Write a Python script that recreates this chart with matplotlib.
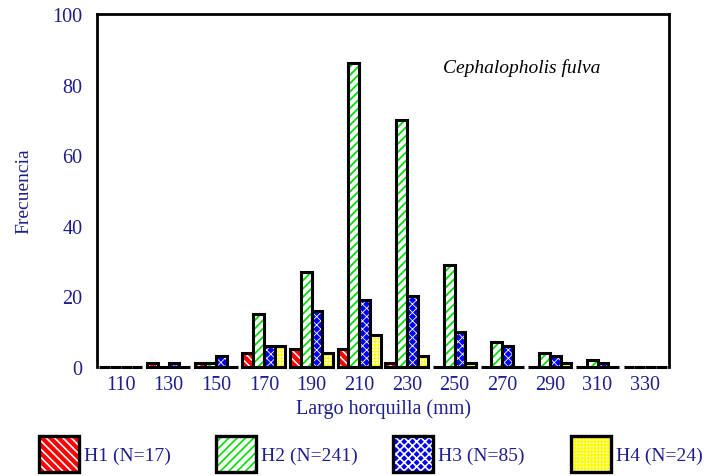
import numpy as np
import matplotlib.pyplot as plt
from matplotlib.patches import Patch
from matplotlib.legend_handler import HandlerTuple

plt.rcParams['font.family'] = 'Liberation Serif'
plt.rcParams['hatch.linewidth'] = 1.2

# class midpoints (mm) and counts per group
clases = ['110', '130', '150', '170', '190', '210', '230', '250', '270', '290', '310', '330']
h1 = [0, 1, 1, 4, 5, 5, 1, 0, 0, 0, 0, 0]
h2 = [0, 0, 1, 15, 27, 86, 70, 29, 7, 4, 2, 0]
h3 = [0, 1, 3, 6, 16, 19, 20, 10, 6, 3, 1, 0]
h4 = [0, 0, 0, 6, 4, 9, 3, 1, 0, 1, 0, 0]
etiquetas = ['H1 (N=17)', 'H2 (N=241)', 'H3 (N=85)', 'H4 (N=24)']

navy = '#1e1e8c'
# (face colour, hatch colour, hatch, hatch linewidth)
estilos = [('#ff0000', 'white', '\\\\\\\\', 1.1),
           ('white', '#00e000', '////', 1.3),
           ('#0000f0', 'white', 'xxxx', 0.6),
           ('white', '#ffff00', '+++++', 0.8)]


def relleno(fc, hc, hatch, hlw, **kw):
    p = Patch(facecolor=fc, edgecolor=hc, hatch=hatch, linewidth=0, **kw)
    if hasattr(p, 'set_hatch_linewidth'):
        p.set_hatch_linewidth(hlw)
    return p


fig = plt.figure(figsize=(7.05, 4.77), dpi=100)
ax = fig.add_axes([0.1376, 0.2285, 0.8114, 0.7401])

x = np.arange(len(clases))
w = 0.225
handles = []
for i, (serie, (fc, hc, hatch, hlw)) in enumerate(zip([h1, h2, h3, h4], estilos)):
    pos = x + (i - 1.5) * w
    barras = ax.bar(pos, serie, w, color=fc, edgecolor=hc, hatch=hatch, linewidth=0, clip_on=False)
    for b in barras:
        if hasattr(b, 'set_hatch_linewidth'):
            b.set_hatch_linewidth(hlw)
    ax.bar(pos, serie, w, fill=False, edgecolor='black', linewidth=2.2, clip_on=False)
    handles.append((relleno(fc, hc, hatch, hlw),
                    Patch(fill=False, edgecolor='black', linewidth=2.4)))

ax.set_xlim(-0.5, 11.5)
ax.set_ylim(0, 100)
ax.set_xticks(x)
ax.set_xticklabels(clases)
ax.set_yticks([0, 20, 40, 60, 80, 100])
ax.tick_params(length=0, labelsize=14.5, labelcolor=navy)
ax.tick_params(axis='y', pad=10.5)
ax.tick_params(axis='x', pad=6)
for s in ['left', 'top', 'right']:
    ax.spines[s].set_linewidth(2)
ax.spines['bottom'].set_visible(False)

ax.set_xlabel('Largo horquilla (mm)', fontsize=14.5, color=navy, labelpad=3)
ax.set_ylabel('Frecuencia', fontsize=14, color=navy, labelpad=14)
ax.text(0.605, 0.85, 'Cephalopholis fulva', transform=ax.transAxes,
        fontsize=14, style='italic', color='black', ha='left', va='center')

# one legend entry per column, evenly spaced
for h, lab, x0 in zip(handles, etiquetas, [0.0553, 0.3064, 0.5574, 0.810]):
    fig.legend([h], [lab], loc='center left', bbox_to_anchor=(x0, 0.046),
               frameon=False, fontsize=14, labelcolor=navy, borderpad=0,
               borderaxespad=0, handler_map={tuple: HandlerTuple(ndivide=1, pad=0)},
               handlelength=2.06, handleheight=2.47, handletextpad=0.26)

fig.savefig('out.png', dpi=100)
